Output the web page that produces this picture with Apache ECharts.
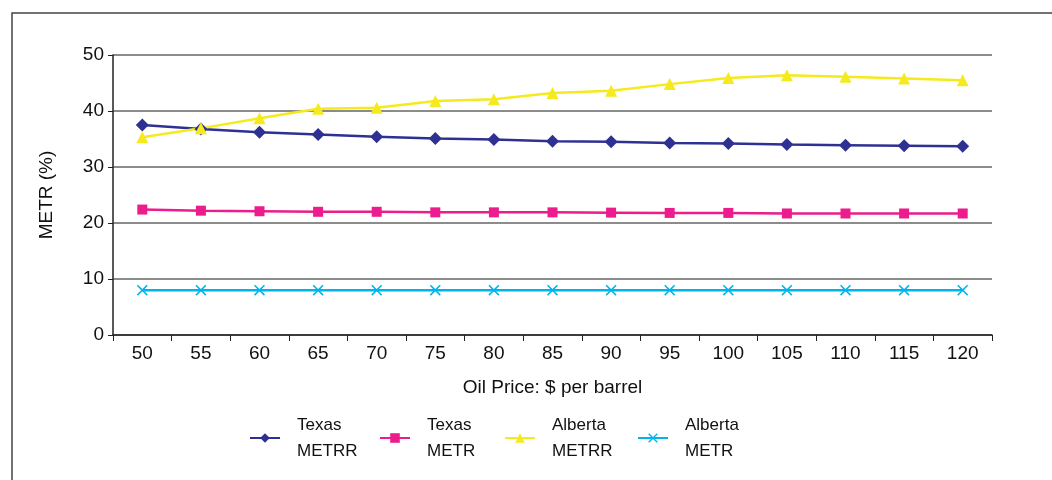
<!DOCTYPE html>
<html>
<head>
<meta charset="utf-8">
<script src="https://cdn.jsdelivr.net/npm/echarts@6/dist/echarts.min.js"></script>
<style>
  html, body { margin: 0; padding: 0; background: #fff; }
  #chart { width: 1052px; height: 480px; }
</style>
</head>
<body>
<div id="chart"></div>
<script>
// oil price categories
var prices = ['50', '55', '60', '65', '70', '75', '80', '85', '90', '95', '100', '105', '110', '115', '120']
var texasMetrr = [37.5, 36.8, 36.2, 35.8, 35.4, 35.1, 34.9, 34.6, 34.5, 34.3, 34.2, 34.0, 33.9, 33.8, 33.7]
var texasMetr = [22.4, 22.2, 22.1, 22.0, 22.0, 21.9, 21.9, 21.9, 21.85, 21.8, 21.8, 21.7, 21.7, 21.7, 21.7]
var albertaMetrr = [35.3, 36.9, 38.7, 40.4, 40.6, 41.8, 42.1, 43.2, 43.6, 44.8, 45.9, 46.4, 46.1, 45.8, 45.5]
var albertaMetr = [8.0, 8.0, 8.0, 8.0, 8.0, 8.0, 8.0, 8.0, 8.0, 8.0, 8.0, 8.0, 8.0, 8.0, 8.0]
var seriesNames = ['Texas\nMETRR', 'Texas\nMETR', 'Alberta\nMETRR', 'Alberta\nMETR']

var font = 'Liberation Sans, Arial, sans-serif'
var crossPath = 'path://M1,0 L5,4 L9,0 L10,1 L6,5 L10,9 L9,10 L5,6 L1,10 L0,9 L4,5 L0,1Z'

function lineSeries(name, data, color, symbol, size) {
  return {
    name: name,
    type: 'line',
    data: data,
    symbol: symbol,
    symbolSize: size,
    color: color,
    lineStyle: { width: 2.5, color: color },
    itemStyle: { color: color },
    emphasis: { disabled: true }
  }
}

// legend slots are a little uneven in the original
var legendWidths = [70, 65, 73, 70]

var chart = echarts.init(document.getElementById('chart'))
var option = {
  animation: false,
  textStyle: { fontFamily: font },
  graphic: [
    {
      type: 'polyline',
      shape: { points: [[12, 480], [12, 13], [1052, 13]] },
      style: { stroke: '#444', lineWidth: 1.5, fill: null }
    }
  ],
  grid: { left: 113, right: 60, top: 55, bottom: 145 },
  xAxis: {
    type: 'category',
    data: prices,
    name: 'Oil Price: $ per barrel',
    nameLocation: 'middle',
    nameGap: 43,
    nameTextStyle: { fontSize: 19, color: '#111', fontFamily: font },
    axisLine: { lineStyle: { color: '#222', width: 1.5 } },
    axisTick: { show: true, length: 6, lineStyle: { color: '#222' } },
    axisLabel: { fontSize: 19, color: '#111', margin: 9, fontFamily: font }
  },
  yAxis: {
    type: 'value',
    min: 0,
    max: 50,
    interval: 10,
    name: 'METR (%)',
    nameLocation: 'middle',
    nameGap: 57,
    nameTextStyle: { fontSize: 19, color: '#111', fontFamily: font },
    axisLine: { show: true, lineStyle: { color: '#222', width: 1.5 } },
    axisTick: { show: true, length: 5, lineStyle: { color: '#222' } },
    axisLabel: { fontSize: 19, color: '#111', margin: 9, fontFamily: font },
    splitLine: { lineStyle: { color: '#666', width: 1.5 } }
  },
  legend: {
    left: 244,
    top: 407,
    itemWidth: 30,
    itemHeight: 12,
    itemGap: 12,
    textStyle: {
      fontSize: 17,
      color: '#111',
      lineHeight: 26,
      padding: [0, 0, 0, 12],
      fontFamily: font
    },
    data: seriesNames.map(function(n, i) {
      return { name: n, textStyle: { width: legendWidths[i] } }
    })
  },
  series: [
    lineSeries(seriesNames[0], texasMetrr, '#2e3192', 'diamond', 13),
    lineSeries(seriesNames[1], texasMetr, '#ec1c8c', 'rect', 10),
    lineSeries(seriesNames[2], albertaMetrr, '#f5ea1e', 'triangle', 12),
    lineSeries(seriesNames[3], albertaMetr, '#00b4ec', crossPath, 11)
  ]
}
chart.setOption(option)
</script>
</body>
</html>
